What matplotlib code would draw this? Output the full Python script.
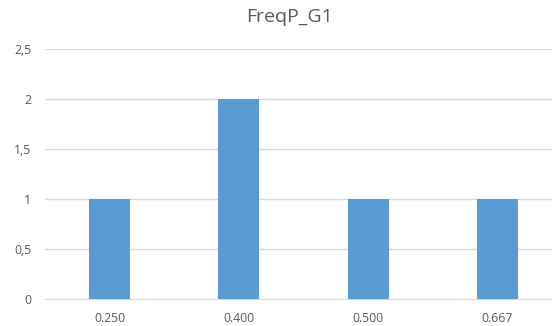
import matplotlib.pyplot as plt
import numpy as np
from matplotlib.ticker import FuncFormatter

categories = ['0.250', '0.400', '0.500', '0.667']
counts = [1, 2, 1, 1]

BAR_COLOR = '#5B9BD5'
GRID_COLOR = '#D9D9D9'
TEXT_COLOR = '#595959'

plt.rcParams['font.family'] = ['Open Sans', 'DejaVu Sans']

fig = plt.figure(figsize=(5.52, 3.26), dpi=100)
ax = fig.add_axes((45 / 552, 27.3 / 326, 507 / 552, 249.7 / 326))

x = np.arange(len(categories))
ax.bar(x, counts, width=0.317, color=BAR_COLOR, zorder=3)

# category slots are ~129 px wide, so the plot runs past the right edge
ax.set_xlim(-0.5, -0.5 + 507 / 129.3)
ax.set_ylim(0, 2.5)
ax.set_yticks(np.arange(0, 2.51, 0.5))
ax.yaxis.set_major_formatter(FuncFormatter(lambda v, _: f'{v:g}'.replace('.', ',')))
ax.set_xticks(x)
ax.set_xticklabels(categories)

ax.grid(axis='y', color=GRID_COLOR, linewidth=1, zorder=0)
for side in ['top', 'right', 'left']:
    ax.spines[side].set_visible(False)
ax.spines['bottom'].set_color(GRID_COLOR)
ax.tick_params(length=0, labelsize=8.8, colors=TEXT_COLOR, pad=9.5)
ax.tick_params(axis='y', pad=10)

fig.text(290 / 552, 1 - 17 / 326, 'FreqP_G1', ha='center', va='center',
         fontsize=14, color=TEXT_COLOR)

fig.savefig('out.png', dpi=100)
